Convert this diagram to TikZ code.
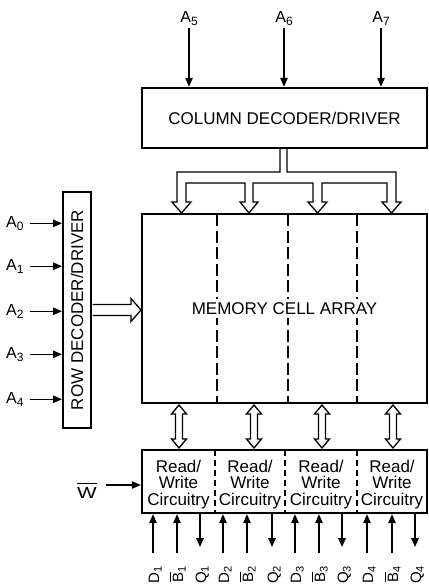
\documentclass[tikz,border=0pt]{standalone}
\usepackage{fontspec}
\usepackage{graphicx}
\setmainfont{Liberation Sans}
\usetikzlibrary{arrows.meta,calc}
\newcommand\sbs[2][12]{\raisebox{-2.5pt}{\fontsize{#1}{#1}\selectfont #2}}
\newcommand\myovl[2][3pt]{\leavevmode\vbox{\hrule height 0.9pt\kern #1\hbox{#2}}}
\begin{document}
\begin{tikzpicture}[x=1pt,y=-1pt,
  box/.style={draw, line width=2.4pt, inner sep=0pt, font=\fontsize{17}{20}\selectfont},
  arr/.style={line width=1.3pt, -{Triangle[length=9pt,width=7.5pt]}},
  hollow/.style={draw, line width=1.3pt, line join=miter},
  lbl/.style={inner sep=0pt, font=\fontsize{16}{16}\selectfont},
  blbl/.style={inner sep=0pt, font=\fontsize{15}{15}\selectfont, rotate=90, anchor=base east},
  rwtxt/.style={inner sep=0pt, anchor=base, font=\fontsize{17}{17}\selectfont},
  div/.style={line width=1.2pt, dash pattern=on 12pt off 4.5pt},
  rwdiv/.style={line width=1.1pt, dash pattern=on 6pt off 4pt}
]
\useasboundingbox (0,0) rectangle (428,588);

% boxes
\node[box, minimum width=285pt, minimum height=60pt] (coldec) at (284.5,118) {COLUMN DECODER/DRIVER};
\node[box, minimum width=285pt, minimum height=189pt] (mem) at (284.5,308.5) {};
\node[box, line width=2pt, minimum width=236pt, minimum height=28pt, rotate=90] (rowdec) at (77,310) {ROW DECODER/DRIVER};
\node[box, minimum width=285pt, minimum height=63pt] (rw) at (284.5,481.5) {};

% dividers
\foreach \x in {217,288,357} \draw[div] (\x,214) -- (\x,403);
\node[fill=white, inner sep=3pt, font=\fontsize{17}{20}\selectfont] (memtxt) at (mem.center) {MEMORY CELL ARRAY};
\foreach \x in {215,285,357} \draw[rwdiv] (\x,450) -- (\x,513);

% read/write texts
\foreach \i/\x in {1/178.5,2/250,3/321,4/392}{
  \node[rwtxt] (rd\i) at (\x,472) {Read/};
  \node[rwtxt] (wr\i) at (\x,488.5) {Write};
  \node[rwtxt] (ci\i) at (\x,505) {Circuitry};
}

% top address inputs
\foreach \n/\x in {5/189,6/284,7/381}{
  \node[lbl, anchor=base] (a\n) at (\x,23) {A\sbs{\n}};
  \draw[arr] ([yshift=-2.5pt]a\n.south) -- (a\n.south |- coldec.north);
}

% left address inputs
\foreach \n/\y in {0/222,1/265,2/310,3/353,4/398}{
  \node[lbl, anchor=base west] (a\n) at (6,{\y+5.5}) {A\sbs{\n}};
  \draw[arr] ([xshift=6pt]a\n.east) -- (a\n.east -| rowdec.north);
}

% write enable
\node[lbl, anchor=base east] (w) at (97,498) {\myovl{\scalebox{1.3}[1]{W}}};
\coordinate (wy) at (0,485);
\coordinate (ws) at ([xshift=9pt]w.east |- wy);
\draw[arr] (ws) -- (ws -| rw.west);

% column bus (hollow)
\draw[hollow] (280,148.5) -- (280,172) -- (177,172) -- (177,202) -- (172,202) -- (181.5,213) -- (191,202) -- (186,202) -- (186,183)
  -- (245,183) -- (245,202) -- (240,202) -- (249,213) -- (258,202) -- (253,202) -- (253,183)
  -- (313,183) -- (313,202) -- (308,202) -- (317.5,213) -- (327,202) -- (322,202) -- (322,183)
  -- (387,183) -- (387,202) -- (382,202) -- (391.5,213) -- (401,202) -- (396,202) -- (396,172)
  -- (287,172) -- (287,148.5);

% row bus (hollow)
\draw[hollow] (92.5,304.5) -- (131,304.5) -- (131,298.5) -- (141,310) -- (131,321.5) -- (131,315.5) -- (92.5,315.5);

% bidirectional hollow arrows
\foreach \c in {179,254,322,393}
  \draw[hollow] (\c,405) -- ({\c+7.5},414) -- ({\c+3.5},414) -- ({\c+3.5},439) -- ({\c+7.5},439) -- (\c,448)
    -- ({\c-7.5},439) -- ({\c-3.5},439) -- ({\c-3.5},414) -- ({\c-7.5},414) -- cycle;

% data lines
\foreach \k/\xd/\xb/\xq in {1/153/177/200, 2/223/247/272, 3/295/319/342, 4/367/392/415}{
  \coordinate (pd\k) at (\xd,553);
  \coordinate (pb\k) at (\xb,553);
  \coordinate (pq\k) at (\xq,547);
  \draw[arr] (pd\k) -- (pd\k |- rw.south);
  \draw[arr] (pb\k) -- (pb\k |- rw.south);
  \draw[arr] (pq\k |- rw.south) -- (pq\k);
  \node[blbl] (ld\k) at ({\xd+6},566) {D\sbs[11]{\k}};
  \node[blbl] (lb\k) at ({\xb+6},566) {\myovl[1.5pt]{B}\sbs[11]{\k}};
  \node[blbl] (lq\k) at ({\xq+6},566) {Q\sbs[11]{\k}};
}
\end{tikzpicture}
\end{document}
